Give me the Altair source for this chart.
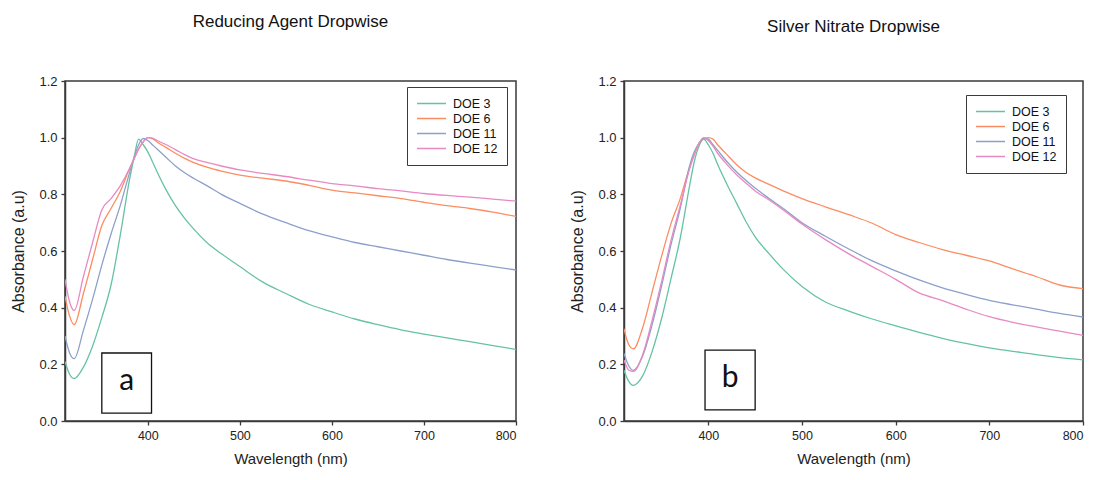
import altair as alt
import pandas as pd

# ---------------- data ----------------
WL = [310, 315, 320, 330, 340, 350, 360, 370, 380, 385, 390, 395, 400, 405, 410,
      420, 430, 440, 450, 465, 480, 500, 525, 550, 575, 600, 625, 650, 675, 700,
      725, 750, 775, 800]

SERIES = ["DOE 3", "DOE 6", "DOE 11", "DOE 12"]
COLORS = ["#66c2a5", "#fc8d62", "#8da0cb", "#e78ac3"]

# Panel a : Reducing Agent Dropwise
A_DOE3 = [0.21, 0.165, 0.15, 0.19, 0.265, 0.365, 0.48, 0.655, 0.85, 0.93, 0.995, 0.975, 0.95, 0.915, 0.88,
          0.815, 0.76, 0.715, 0.677, 0.627, 0.59, 0.545, 0.49, 0.45, 0.412, 0.385, 0.36, 0.34, 0.322, 0.307,
          0.293, 0.28, 0.266, 0.253]
A_DOE6 = [0.44, 0.37, 0.34, 0.45, 0.57, 0.69, 0.75, 0.81, 0.89, 0.925, 0.96, 0.985, 1.0, 0.997, 0.985,
          0.965, 0.945, 0.927, 0.912, 0.895, 0.882, 0.868, 0.857, 0.847, 0.832, 0.815, 0.805, 0.795, 0.785, 0.772,
          0.76, 0.75, 0.737, 0.722]
A_DOE11 = [0.30, 0.24, 0.22, 0.32, 0.43, 0.55, 0.66, 0.76, 0.875, 0.93, 0.975, 0.997, 0.99, 0.975, 0.96,
           0.93, 0.90, 0.876, 0.856, 0.829, 0.80, 0.768, 0.73, 0.70, 0.672, 0.65, 0.63, 0.615, 0.60, 0.585,
           0.57, 0.557, 0.545, 0.533]
A_DOE12 = [0.50, 0.42, 0.39, 0.51, 0.63, 0.745, 0.785, 0.83, 0.89, 0.925, 0.96, 0.985, 1.0, 0.998, 0.99,
           0.975, 0.958, 0.94, 0.925, 0.912, 0.90, 0.886, 0.874, 0.863, 0.85, 0.838, 0.83, 0.82, 0.812, 0.803,
           0.796, 0.79, 0.783, 0.776]

# Panel b : Silver Nitrate Dropwise
B_DOE3 = [0.179, 0.14, 0.126, 0.16, 0.245, 0.36, 0.50, 0.645, 0.83, 0.915, 0.97, 0.995, 0.975, 0.945, 0.905,
          0.835, 0.77, 0.705, 0.65, 0.59, 0.535, 0.475, 0.42, 0.388, 0.36, 0.336, 0.313, 0.292, 0.274, 0.258,
          0.246, 0.234, 0.224, 0.216]
B_DOE6 = [0.326, 0.27, 0.255, 0.33, 0.455, 0.58, 0.695, 0.785, 0.895, 0.94, 0.98, 0.997, 1.0, 0.995, 0.975,
          0.94, 0.905, 0.878, 0.858, 0.835, 0.812, 0.785, 0.756, 0.728, 0.698, 0.658, 0.63, 0.605, 0.585, 0.565,
          0.537, 0.51, 0.48, 0.467]
B_DOE11 = [0.238, 0.195, 0.179, 0.23, 0.34, 0.475, 0.62, 0.75, 0.90, 0.95, 0.98, 0.997, 0.995, 0.975, 0.955,
           0.915, 0.88, 0.85, 0.822, 0.785, 0.75, 0.70, 0.652, 0.607, 0.565, 0.53, 0.498, 0.47, 0.447, 0.426,
           0.41, 0.395, 0.38, 0.367]
B_DOE12 = [0.215, 0.18, 0.175, 0.235, 0.355, 0.49, 0.635, 0.76, 0.89, 0.94, 0.98, 1.0, 0.99, 0.97, 0.945,
           0.905, 0.87, 0.84, 0.812, 0.78, 0.745, 0.695, 0.64, 0.59, 0.545, 0.50, 0.452, 0.425, 0.395, 0.368,
           0.348, 0.332, 0.317, 0.302]

X_TICKS = [400, 500, 600, 700, 800]
Y_TICKS = [0.0, 0.2, 0.4, 0.6, 0.8, 1.0, 1.2]

FONT = "Liberation Sans"
INK = "#3a3a3a"


def long_frame(series_lists):
    rows = []
    for name, vals in zip(SERIES, series_lists):
        for w, v in zip(WL, vals):
            rows.append({"wl": w, "abs": v, "series": name})
    return pd.DataFrame(rows)


def panel(df, title, title_dy, width, legend_y, letter, box):
    x = alt.X("wl:Q", scale=alt.Scale(domain=[310, 800], nice=False, zero=False),
              axis=alt.Axis(values=X_TICKS, title="Wavelength (nm)", format="d"))
    y = alt.Y("abs:Q", scale=alt.Scale(domain=[0, 1.2], nice=False),
              axis=alt.Axis(values=Y_TICKS, format=".1f", title="Absorbance (a.u)"))
    lines = alt.Chart(df).mark_line(strokeWidth=1.3, clip=True, interpolate="monotone").encode(
        x=x, y=y,
        color=alt.Color("series:N",
                        scale=alt.Scale(domain=SERIES, range=COLORS),
                        sort=SERIES,
                        legend=alt.Legend(orient="none", legendX=342, legendY=legend_y,
                                          title=None, symbolType="stroke",
                                          symbolSize=841, symbolStrokeWidth=1.5,
                                          labelFontSize=12.5, labelFont=FONT, labelColor="#111",
                                          labelOffset=6, clipHeight=15, rowPadding=0,
                                          padding=9, strokeColor=INK, fillColor="white",
                                          cornerRadius=0)),
        detail="series:N",
    )
    box_df = pd.DataFrame([{"x0": box[0], "x1": box[1], "y0": box[2], "y1": box[3],
                            "xc": (box[0] + box[1]) / 2, "yc": (box[2] + box[3]) / 2,
                            "t": letter}])
    rect = alt.Chart(box_df).mark_rect(fill="white", stroke="#111", strokeWidth=1.3).encode(
        x="x0:Q", x2="x1", y="y0:Q", y2="y1")
    txt = alt.Chart(box_df).mark_text(font="Lato", fontSize=30, color="#111",
                                      baseline="middle", align="center", dy=-2).encode(
        x="xc:Q", y="yc:Q", text="t:N")
    return alt.layer(lines, rect, txt).properties(
        width=width, height=340,
        title=alt.TitleParams(title, font=FONT, fontSize=17, fontWeight="normal",
                              color="#111", anchor="middle", offset=44, dy=title_dy),
    )


dfa = long_frame([A_DOE3, A_DOE6, A_DOE11, A_DOE12])
dfb = long_frame([B_DOE3, B_DOE6, B_DOE11, B_DOE12])

pa = panel(dfa, "Reducing Agent Dropwise", 0, 451, 6, "a", (350, 404, 0.028, 0.24))
pb = panel(dfb, "Silver Nitrate Dropwise", 5, 459, 14, "b", (396.5, 450, 0.039, 0.25))

chart = alt.hconcat(pa, pb, spacing=51).resolve_scale(color="independent").resolve_legend(
    color="independent"
).properties(
    padding={"left": 10, "top": 12, "right": 5, "bottom": 5},
    background="white",
).configure_view(
    stroke=INK, strokeWidth=1.5
).configure_axis(
    grid=False, domainColor=INK, domainWidth=1.5, tickColor=INK, tickWidth=1.3, tickSize=4,
    labelFont=FONT, titleFont=FONT, labelColor="#222", titleColor="#222",
    titleFontWeight="normal", labelPadding=4
).configure_axisX(
    labelFontSize=12.5, titleFontSize=15, titlePadding=10
).configure_axisY(
    labelFontSize=13, titleFontSize=16, titlePadding=12
)

chart.save("out.html", embed_options={"renderer": "svg", "actions": False})
